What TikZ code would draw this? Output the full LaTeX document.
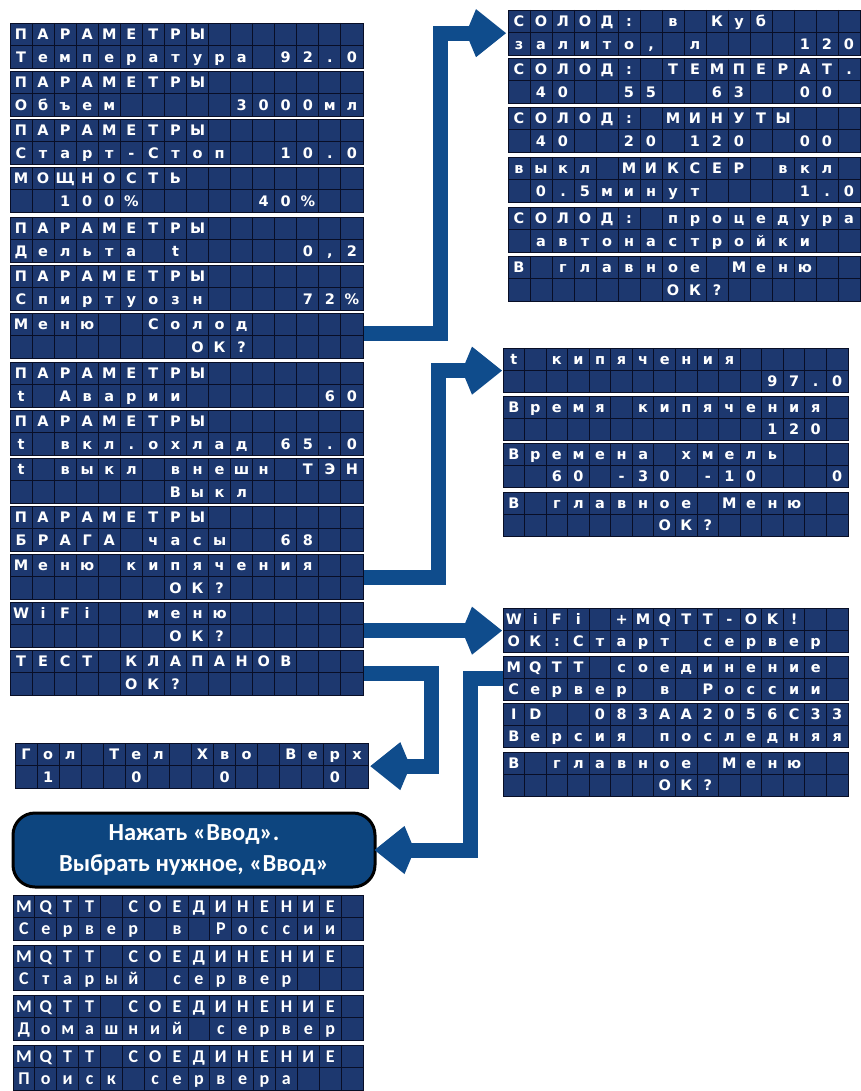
\documentclass[tikz,border=0pt]{standalone}
\usepackage{fontspec}
\setmainfont{Carlito}
\newfontfamily\lcdfontfam{DejaVu Sans}
\newfontfamily\mqttfontfam{Carlito}
\usetikzlibrary{arrows.meta}
\definecolor{lcdbg}{HTML}{1D386F}
\definecolor{lcdline}{HTML}{080E26}
\definecolor{arrowblue}{HTML}{0F4C8C}
\definecolor{boxblue}{HTML}{0D457F}

\newcount\mycol
\def\myscan#1{%
  \ifx#1\myend
    \let\mynext\relax
  \else
    \ifx#1*\else\myput{#1}\fi
    \advance\mycol by 1\relax
    \let\mynext\myscan
  \fi
  \mynext}
\def\myput#1{%
  \edef\myc{\the\mycol}%
  \node[lcdch] (\myname r\myrow c\myc) at ({\myx+(\myc+0.5)*\mycw},{\myyc}) {#1};}
\newcommand\myrowtext[3]{\def\myrow{#1}\edef\myyc{#2}\mycol=0 \myscan#3\myend}
\newcommand\lcd[7]{%
  \def\myname{#1}\def\myx{#2}%
  \pgfmathsetmacro\mycw{#4/16}%
  \pgfmathsetmacro\myrh{#5/2}%
  \node[lcdbox, minimum width=#4pt, minimum height=#5pt, anchor=north west] (#1) at (#2,#3) {};
  \foreach \i in {1,...,15} {\draw[lcdgrid] ({#2+\i*\mycw},#3) -- ++(0,#5);}
  \draw[lcdgrid] (#2,{#3+\myrh}) -- ++(#4,0);
  \pgfmathsetmacro\myyone{#3+\myrh/2+\mybase}%
  \pgfmathsetmacro\myytwo{#3+1.5*\myrh+\mybase}%
  \myrowtext{1}{\myyone}{#6}%
  \myrowtext{2}{\myytwo}{#7}%
}
\def\mybase{5.3}

\begin{document}
\begin{tikzpicture}[x=1pt,y=-1pt,
  lcdbox/.style={draw=lcdline, fill=lcdbg, line width=1.3pt, inner sep=0pt},
  lcdgrid/.style={draw=lcdline, line width=1pt},
  lcdch/.style={text=white, inner sep=0pt, anchor=base, font=\lcdfontfam\bfseries\fontsize{14.5}{14.5}\selectfont},
  bigarrow/.style={draw=arrowblue, line width=15pt, line join=miter,
    -{Kite[length=40pt,width=48pt,inset=10pt]}},
  roundbox/.style={draw=black, line width=3pt, fill=boxblue, rounded corners=22pt,
    text=white, align=center, minimum width=362pt, minimum height=74pt, inner sep=0pt,
    font=\bfseries\fontsize{24.5}{31}\selectfont}
]
\fill[white] (0,0) rectangle (860,1091);
\useasboundingbox (0,0) rectangle (860,1091);

% left column
\lcd{L1}{10}{23}{353}{45}{ПАРАМЕТРЫ}{Температура*92.0}
\lcd{L2}{10}{71}{353}{45}{ПАРАМЕТРЫ}{Объем*****3000мл}
\lcd{L3}{10}{119}{353}{45}{ПАРАМЕТРЫ}{Старт-Стоп**10.0}
\lcd{L4}{10}{167}{353}{45}{МОЩНОСТЬ}{**100\%*****40\%}
\lcd{L5}{10}{217}{353}{45}{ПАРАМЕТРЫ}{Дельта*t*****0,2}
\lcd{L6}{10}{265}{353}{45}{ПАРАМЕТРЫ}{Спиртуозн****72\%}
\lcd{L7}{10}{313}{353}{45}{Меню**Солод}{********ОК?}
\lcd{L8}{10}{362}{353}{45}{ПАРАМЕТРЫ}{t*Аварии******60}
\lcd{L9}{10}{410}{353}{45}{ПАРАМЕТРЫ}{t*вкл.охлад*65.0}
\lcd{L10}{10}{458}{353}{45}{t*выкл*внешн*ТЭН}{*******Выкл}
\lcd{L11}{10}{506}{353}{45}{ПАРАМЕТРЫ}{БРАГА*часы**68}
\lcd{L12}{10}{554}{353}{45}{Меню*кипячения}{*******ОК?}
\lcd{L13}{10}{602}{353}{45}{WiFi**меню}{*******ОК?}
\lcd{L14}{10}{650}{353}{45}{ТЕСТ*КЛАПАНОВ}{*****ОК?}

% solod group
\lcd{S1}{508}{10}{352}{45}{СОЛОД:*в*Куб}{залито,*л****120}
\lcd{S2}{508}{58}{352}{45}{СОЛОД:*ТЕМПЕРАТ.}{*40**55**63**00}
\lcd{S3}{508}{107}{352}{45}{СОЛОД:*МИНУТЫ}{*40**20*120**00}
\lcd{S4}{508}{157}{352}{45}{выкл*МИКСЕР*вкл}{*0.5минут****1.0}
\lcd{S5}{508}{207}{352}{45}{СОЛОД:*процедура}{*автонастройки}
\lcd{S6}{508}{256}{352}{45}{В*главное*Меню}{*******ОК?}

% boiling group
\lcd{K1}{503}{348}{345}{44}{t*кипячения}{************97.0}
\lcd{K2}{503}{396}{345}{44}{Время*кипячения}{************120}
\lcd{K3}{503}{443}{345}{44}{Времена*хмель}{**60*-30*-10***0}
\lcd{K4}{503}{492}{345}{44}{В*главное*Меню}{*******ОК?}

% wifi group
\lcd{W1}{503}{608}{345}{44}{WiFi*+MQTT-OK!}{ОК:Старт*сервер}
\lcd{W2}{503}{656}{345}{44}{MQTT*соединение}{Сервер*в*России}
\lcd{W3}{503}{703}{345}{44}{ID**083AA2056C33}{Версия*последняя}
\lcd{W4}{503}{752}{345}{44}{В*главное*Меню}{*******ОК?}

% valves
\lcd{G}{15}{743}{353}{45}{Гол*Тел*Хво*Верх}{*1***0***0****0}

% rounded box
\node[roundbox] (B) at (194,850) {Нажать «Ввод».\\Выбрать нужное, «Ввод»};

% mqtt list
\tikzset{lcdch/.style={text=white, inner sep=0pt, anchor=base, font=\mqttfontfam\bfseries\fontsize{18}{18}\selectfont}}
\def\mybase{6}
\lcd{M1}{13}{895}{350}{45}{MQTT*СОЕДИНЕНИЕ}{Сервер*в*России}
\lcd{M2}{13}{945}{350}{45}{MQTT*СОЕДИНЕНИЕ}{Старый*сервер}
\lcd{M3}{13}{995}{350}{45}{MQTT*СОЕДИНЕНИЕ}{Домашний*сервер}
\lcd{M4}{13}{1045}{350}{45}{MQTT*СОЕДИНЕНИЕ}{Поиск*сервера}

% connectors
\coordinate (j1) at (440,0);
\coordinate (j2) at (438,0);
\coordinate (j4) at (431,0);
\coordinate (j5) at (470,0);
\draw[bigarrow] ([yshift=3pt]L7.east) -| (j1 |- S1.west) -- ([xshift=-2pt]S1.west);
\draw[bigarrow] (L12.east) -| (j2 |- K1.west) -- ([xshift=-1pt]K1.west);
\draw[bigarrow] (L13.east |- W1.west) -- ([xshift=-1pt]W1.west);
\draw[bigarrow] (L14.east) -| (j4 |- G.east) -- ([xshift=1pt]G.east);
\draw[bigarrow] (W2.west) -| (j5 |- B.east) -- ([xshift=-2pt]B.east);
\end{tikzpicture}
\end{document}
